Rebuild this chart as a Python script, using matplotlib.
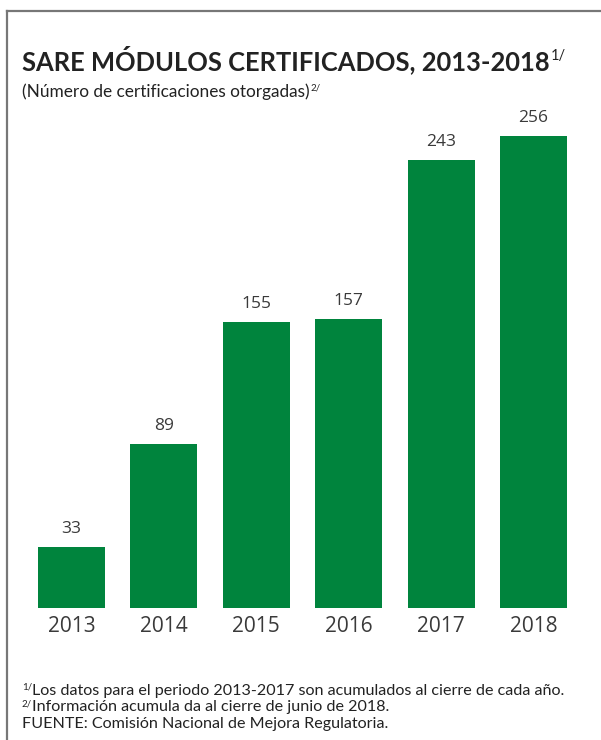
import matplotlib
matplotlib.use('Agg')
import matplotlib.pyplot as plt
import numpy as np
from matplotlib.lines import Line2D

years = ['2013', '2014', '2015', '2016', '2017', '2018']
values = [33, 89, 155, 157, 243, 256]

title = 'SARE MÓDULOS CERTIFICADOS, 2013-2018'
subtitle = '(Número de certificaciones otorgadas)'
notes = [('1/', 'Los datos para el periodo 2013-2017 son acumulados al cierre de cada año.'),
         ('2/', 'Información acumula da al cierre de junio de 2018.'),
         ('', 'FUENTE: Comisión Nacional de Mejora Regulatoria.')]

plt.rcParams['font.family'] = ['Lato', 'DejaVu Sans']
green = '#00843D'
txt = '#3a3a3a'
numfont = ['Open Sans', 'DejaVu Sans']

W, H = 601, 740
fig = plt.figure(figsize=(W / 100, H / 100), dpi=100)

def px(x, y):
    return x / W, 1 - y / H

# frame (left and top)
fig.add_artist(Line2D([7 / W, 7 / W], [0, 1 - 11 / H], color='#777777', lw=1.6))
fig.add_artist(Line2D([7 / W, 1], [1 - 11 / H, 1 - 11 / H], color='#777777', lw=1.6))

x0, x1 = 25.3, 579.7
ybot, ytop = 608, 136
ax = fig.add_axes([x0 / W, 1 - ybot / H, (x1 - x0) / W, (ybot - ytop) / H])
x = np.arange(len(years))
ax.bar(x, values, width=0.725, color=green)
ax.set_xlim(-0.5, len(years) - 0.5)
ax.set_ylim(0, 256)
for s in ax.spines.values():
    s.set_visible(False)
ax.set_yticks([])
ax.set_xticks(x)
ax.set_xticklabels(years, fontsize=15, color=txt, family=numfont)
ax.tick_params(axis='x', length=0, pad=6)
for xi, v in zip(x, values):
    ax.annotate(str(v), (xi, v), xytext=(0, 7), textcoords='offset points',
                ha='center', va='bottom', fontsize=12.5, color=txt, family=numfont)

fig.canvas.draw()
r = fig.canvas.get_renderer()

def sup_text(xp, yp, main, sup, size, weight='normal', supsize=None, rise=0.38):
    t = fig.text(*px(xp, yp), main, fontsize=size, fontweight=weight, color='#222222',
                 ha='left', va='baseline')
    if sup:
        bb = t.get_window_extent(r)
        fig.text((bb.x1 + 1) / W, (1 - yp / H) + size * rise / 72 * 100 / H, sup,
                 fontsize=supsize or size * 0.55, color='#222222', ha='left', va='baseline')
    return t

sup_text(22, 70, title, '1/', 18.4, weight='bold', supsize=10.5)
sup_text(22, 97, subtitle, '2/', 12.4, supsize=7)
for i, (s, n) in enumerate(notes):
    yb = 695 + i * 16.5
    xs = 22
    if s:
        st = fig.text(*px(xs, yb - 5), s, fontsize=7, color='#222222', ha='left', va='baseline')
        xs = st.get_window_extent(r).x1
    fig.text(*px(xs, yb), n, fontsize=11.6, color='#222222', ha='left', va='baseline')

fig.savefig('out.png', dpi=100)
